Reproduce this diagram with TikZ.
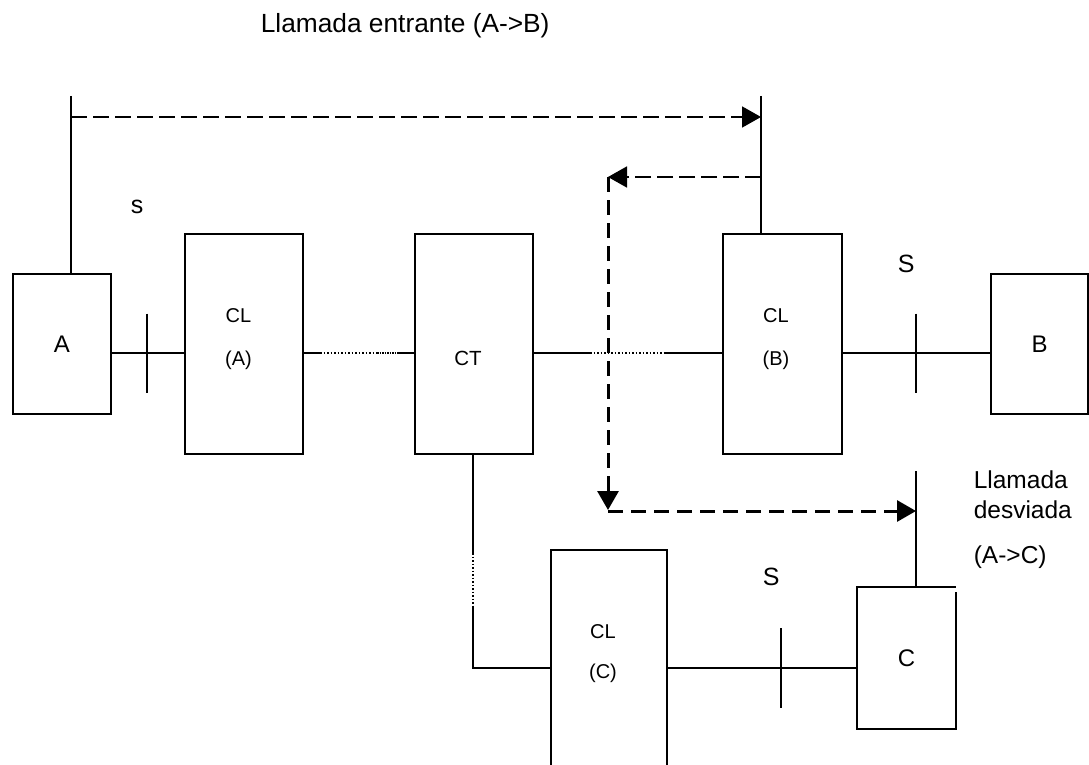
\documentclass[tikz,border=0pt]{standalone}
\usepackage{fontspec}
\setmainfont{Liberation Sans}
\usetikzlibrary{arrows.meta}
\newcommand\fTitle{\fontsize{26.3}{31}\selectfont}
\newcommand\fLab{\fontsize{24.5}{30}\selectfont}
\newcommand\fBox{\fontsize{24}{29}\selectfont}
\newcommand\fCLx{\fontsize{20}{43}\selectfont}
\newcommand\fCT{\fontsize{20.5}{24}\selectfont}
\newcommand\fSS{\fontsize{25}{30}\selectfont}
\begin{document}
\begin{tikzpicture}[x=1pt,y=-1pt,line width=1.6pt,
  box/.style={draw,line width=1.6pt,inner sep=0pt,font=\fBox},
  cltext/.style={inner sep=0pt,align=center,font=\fCLx},
  dashA/.style={line width=1.8pt,dash pattern=on 16pt off 6pt},
  dashB/.style={line width=3pt,dash pattern=on 15pt off 8pt},
  dotline/.style={line width=1.4pt,dash pattern=on 1.5pt off 2pt},
  densedot/.style={line width=1.4pt,dash pattern=on 1.5pt off 1pt},
  tip/.style={-{Triangle[length=19pt,width=21pt]}}]
\useasboundingbox (0,0) rectangle (1089,765);
\clip (0,0) rectangle (1089,765);
\fill[white] (0,0) rectangle (1089,765);

% boxes
\node[box,minimum width=98pt,minimum height=140pt] (A) at (62,344) {A};
\node[box,minimum width=118pt,minimum height=220pt] (CLA) at (244,344) {};
\node[box,minimum width=118pt,minimum height=220pt] (CT) at (474,344) {};
\node[box,minimum width=119pt,minimum height=220pt] (CLB) at (782.5,344) {};
\node[box,minimum width=97pt,minimum height=140pt] (B) at (1039.5,344) {B};
\node[box,minimum width=116pt,minimum height=230pt] (CLC) at (609,665) {};
\node[inner sep=0pt,minimum width=97pt,minimum height=140pt,font=\fBox] (C) at (906.5,658) {C};
\draw ([yshift=-5pt]C.north east) -- (C.south east) -- (C.south west) -- (C.north west) -- (C.north east);

% box labels
\node[cltext] (tCLA) at (238.5,339.5) {CL\\(A)};
\node[cltext] (tCLB) at (776,339.5) {CL\\(B)};
\node[cltext] (tCLC) at (603,654) {CL\\[-3pt](C)};
\node[inner sep=0pt,font=\fCT,anchor=base] (tCT) at (468,365) {CT};

% free labels
\node[inner sep=0pt,font=\fTitle,anchor=base west] (title) at (260,33) {Llamada entrante (A->B)};
\node[inner sep=0pt,font=\fSS,anchor=base west] (s1) at (130,213) {s};
\node[inner sep=0pt,font=\fSS,anchor=base west] (s2) at (897,272) {S};
\node[inner sep=0pt,font=\fSS,anchor=base west] (s3) at (762,585) {S};
\node[inner sep=0pt,font=\fLab,anchor=base west] (d1t) at (973,488) {Llamada};
\node[inner sep=0pt,font=\fLab,anchor=base west] (d2t) at (973,518) {desviada};
\node[inner sep=0pt,font=\fLab,anchor=base west] (d3t) at (973,563) {(A->C)};

% reference coordinates
\coordinate (row1) at (0,353);
\coordinate (row2) at (0,668);
\coordinate (k1) at (147,353);
\coordinate (k2) at (916,353);
\coordinate (k3) at (781,668);
\coordinate (p1) at (320,353);
\coordinate (p2) at (377,353);
\coordinate (p3) at (397,353);
\coordinate (q1) at (590,353);
\coordinate (q2) at (665,353);
\coordinate (v1) at (473,553);
\coordinate (v2) at (473,607);
\coordinate (aTop) at (71,96);
\coordinate (bTop) at (761,96);
\coordinate (cTop) at (916,471);
\coordinate (e1) at (0,117);
\coordinate (e2) at (0,177);
\coordinate (turn) at (608,177);
\coordinate (e3a) at (0,510);
\coordinate (e3) at (0,511);

% line connections
\draw (A.east |- row1) -- (CLA.west |- row1);
\draw ([yshift=39.5pt]k1) -- ([yshift=-39.5pt]k1);
\draw (CLA.east |- row1) -- (p1);
\draw[dotline] (p1) -- (p2);
\draw[densedot] (p2) -- (p3);
\draw (p3) -- (CT.west |- row1);
\draw (CT.east |- row1) -- (q1);
\draw[dotline] (q1) -- (q2);
\draw (q2) -- (CLB.west |- row1);
\draw (CLB.east |- row1) -- (B.west |- row1);
\draw ([yshift=39.5pt]k2) -- ([yshift=-39.5pt]k2);
\draw (CT.south -| v1) -- (v1);
\draw[dotline] (v1) -- (v2);
\draw (v2) -- (v2 |- row2) -- (CLC.west |- row2);
\draw (CLC.east |- row2) -- (C.west |- row2);
\draw ([yshift=40pt]k3) -- ([yshift=-40pt]k3);

% signalling
\draw (aTop) -- (aTop |- A.north);
\draw (bTop) -- (bTop |- CLB.north);
\draw (cTop) -- (cTop |- C.north);
\draw[dashA,tip] (aTop |- e1) -- (bTop |- e1);
\draw[dashA,tip] (bTop |- e2) -- (turn);
\draw[dashB,tip] (turn) -- (turn |- e3a);
\draw[dashB,tip] (turn |- e3) -- (cTop |- e3);
\end{tikzpicture}
\end{document}
